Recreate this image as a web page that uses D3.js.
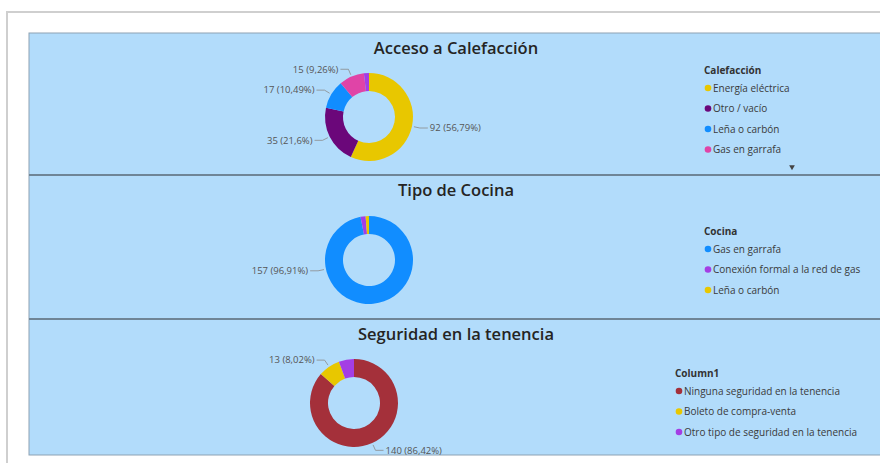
<!DOCTYPE html>
<html>
<head>
<meta charset="utf-8">
<script src="https://cdn.jsdelivr.net/npm/d3@7"></script>
<style>
  body { margin: 0; background: #fff; }
  svg { display: block; font-family: "Open Sans", sans-serif; }
</style>
</head>
<body>
<svg id="chart" width="880" height="463"></svg>
<script>
var calefCats = ["Energía eléctrica", "Otro / vacío", "Leña o carbón", "Gas en garrafa", "Conexión formal a la red de gas"];
var calefVals = [92, 35, 17, 15, 3];
var cocinaCats = ["Gas en garrafa", "Conexión formal a la red de gas", "Leña o carbón"];
var cocinaVals = [157, 3, 2];
var tenenciaCats = ["Ninguna seguridad en la tenencia", "Boleto de compra-venta", "Otro tipo de seguridad en la tenencia"];
var tenenciaVals = [140, 13, 9];

var titles = ["Acceso a Calefacción", "Tipo de Cocina", "Seguridad en la tenencia"];
var legendTitles = ["Calefacción", "Cocina", "Column1"];

var colorMap = {
  "Energía eléctrica": "#e8c700",
  "Otro / vacío": "#6b077a",
  "Leña o carbón": "#118dff",
  "Gas en garrafa": "#e044a7",
  "Conexión formal a la red de gas": "#a43ee4",
  "Ninguna seguridad en la tenencia": "#a4303a",
  "Boleto de compra-venta": "#e8c700",
  "Otro tipo de seguridad en la tenencia": "#a43ee4"
};
// cocina: gas en garrafa es azul, leña amarilla
var cocinaColors = ["#118dff", "#a43ee4", "#e8c700"];

var panels = [
  { cats: calefCats, vals: calefVals, top: 33, bottom: 175, cx: 369, cy: 117, legX: 704, legY: 70, legN: 4, arrow: true },
  { cats: cocinaCats, vals: cocinaVals, colors: cocinaColors, top: 175, bottom: 319, cx: 369, cy: 260, legX: 704, legY: 231, legN: 3, labelAngle: { 0: 258 } },
  { cats: tenenciaCats, vals: tenenciaVals, top: 319, bottom: 455, cx: 354, cy: 403, legX: 675, legY: 373, legN: 3 }
];

var svg = d3.select('#chart');

// marco exterior
svg.append('path')
  .attr('d', 'M7,463 V12 H880')
  .attr('fill', 'none')
  .attr('stroke', '#cfcfcf')
  .attr('stroke-width', 2);

svg.append('rect')
  .attr('x', 29).attr('y', 33)
  .attr('width', 860).attr('height', 422)
  .attr('fill', '#b2dcfb')
  .attr('stroke', '#8da2b3')
  .attr('stroke-width', 1);

var rOuter = 44, rInner = 26;
var arc = d3.arc().innerRadius(rInner).outerRadius(rOuter);
var pie = d3.pie().sort(null).value(function(d){ return d; });

panels.forEach(function(p, i) {
  var g = svg.append('g');

  if (i > 0) {
    g.append('line')
      .attr('x1', 29).attr('x2', 880)
      .attr('y1', p.top).attr('y2', p.top)
      .attr('stroke', '#6f8596')
      .attr('stroke-width', 2);
  }

  g.append('text')
    .attr('x', 456).attr('y', p.top + 21)
    .attr('text-anchor', 'middle')
    .attr('font-size', 16.5)
    .attr('font-weight', 600)
    .attr('fill', '#252423')
    .text(titles[i]);

  var total = d3.sum(p.vals);
  var arcs = pie(p.vals);
  var color = function(j){ return p.colors ? p.colors[j] : colorMap[p.cats[j]]; };

  var donut = g.append('g').attr('transform', 'translate(' + p.cx + ',' + p.cy + ')');
  donut.selectAll('path.slice')
    .data(arcs)
    .enter().append('path')
      .attr('class', 'slice')
      .attr('d', arc)
      .attr('fill', function(d, j){ return color(j); });

  // etiquetas de datos con línea guía
  arcs.forEach(function(d, j) {
    var share = d.value / total;
    if (share < 0.07) return;
    var ang = (p.labelAngle && p.labelAngle[j] != null) ? p.labelAngle[j] * Math.PI / 180 : (d.startAngle + d.endAngle) / 2;
    var sx = Math.sin(ang), sy = -Math.cos(ang);
    var side = sx >= 0 ? 1 : -1;
    var x1 = (rOuter + 2) * sx, y1 = (rOuter + 2) * sy;
    var x2 = (rOuter + 8) * sx, y2 = (rOuter + 8) * sy;
    var x3 = x2 + side * 8;
    donut.append('polyline')
      .attr('points', [[x1, y1], [x2, y2], [x3, y2]].map(function(q){ return q.join(','); }).join(' '))
      .attr('fill', 'none')
      .attr('stroke', '#8a8a8a')
      .attr('stroke-width', 0.8);
    var pct = d3.format('.2f')(share * 100).replace(/0+$/, '').replace(/\.$/, '').replace('.', ',');
    donut.append('text')
      .attr('x', x3 + side * 2)
      .attr('y', y2)
      .attr('dy', '0.35em')
      .attr('text-anchor', side > 0 ? 'start' : 'end')
      .attr('font-size', 9.5)
      .attr('fill', '#555')
      .text(d.value + ' (' + pct + '%)');
  });

  // leyenda
  var leg = g.append('g').attr('transform', 'translate(' + p.legX + ',' + p.legY + ')');
  leg.append('text')
    .attr('x', 0).attr('y', 0)
    .attr('dy', '0.35em')
    .attr('font-size', 10)
    .attr('font-weight', 700)
    .attr('fill', '#333')
    .text(legendTitles[i]);

  var items = leg.selectAll('g.item')
    .data(p.cats.slice(0, p.legN))
    .enter().append('g')
      .attr('class', 'item')
      .attr('transform', function(d, j){ return 'translate(0,' + (18 + j * 20.5) + ')'; });
  items.append('circle')
    .attr('cx', 4).attr('cy', 0).attr('r', 3.3)
    .attr('fill', function(d, j){ return color(j); });
  items.append('text')
    .attr('x', 9).attr('y', 0)
    .attr('dy', '0.35em')
    .attr('font-size', 10)
    .attr('fill', '#3a3a3a')
    .text(function(d){ return d; });

  if (p.arrow) {
    g.append('path')
      .attr('d', d3.symbol(d3.symbolTriangle, 14))
      .attr('transform', 'translate(792,167) rotate(180)')
      .attr('fill', '#444');
  }
});
</script>
</body>
</html>
